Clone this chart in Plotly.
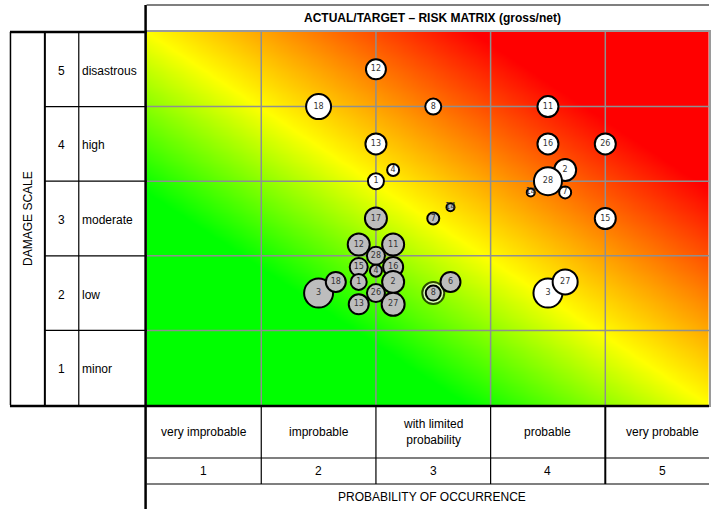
import numpy as np
import plotly.graph_objects as go

# ---- Matrix axes -----------------------------------------------------------
prob_levels = [1, 2, 3, 4, 5]
prob_labels = ["very improbable", "improbable", "with limited<br>probability",
               "probable", "very probable"]
damage_levels = [1, 2, 3, 4, 5]
damage_labels = ["minor", "low", "moderate", "high", "disastrous"]

# ---- Gross risks (white bubbles) -----------------------------------------
gross_ids = [12, 18, 8, 11, 13, 16, 26, 4, 1, 2, 28, 14, 7, 15, 3, 27]
gross_prob = [2.0, 1.5, 2.5, 3.5, 2.0, 3.5, 4.0, 2.15, 2.0, 3.65, 3.5, 3.35, 3.65, 4.0, 3.5, 3.65]
gross_damage = [4.5, 4.0, 4.0, 4.0, 3.5, 3.5, 3.5, 3.15, 3.0, 3.15, 3.0, 2.85, 2.85, 2.5, 1.5, 1.65]
gross_size = [20, 25, 16, 21, 21, 21, 21, 12, 16, 22, 28, 8, 12, 21, 29, 25]

# ---- Net risks (grey bubbles) --------------------------------------------
net_ids = [3, 18, 12, 11, 15, 16, 28, 1, 2, 13, 27, 26, 4, 17, 7, 14, 6, 8]
net_prob = [1.5, 1.65, 1.85, 2.15, 1.85, 2.15, 2.0, 1.85, 2.15, 1.85, 2.15, 2.0, 2.0, 2.0, 2.5, 2.65, 2.65, 2.5]
net_damage = [1.5, 1.65, 2.15, 2.15, 1.85, 1.85, 2.0, 1.65, 1.65, 1.35, 1.35, 1.5, 1.8, 2.5, 2.5, 2.65, 1.65, 1.5]
net_size = [29, 20, 22, 22, 18, 20, 18, 16, 22, 20, 23, 18, 12, 22, 12, 8, 20, 15]
net_ringed = [8]          # net risks equal to their gross value

W, H = 711, 509
PLOT_L, PLOT_T, PLOT_B = 147, 32, 405
COL_W = 115
X_MAX = (W - PLOT_L) / COL_W


def px(x):
    return x / W


def py(y):
    return 1 - y / H


fig = go.Figure()

# background gradient: green (low) -> yellow (diagonal) -> red (high)
gx = np.linspace(-0.1, X_MAX + 0.1, 90)
gy = np.linspace(-0.1, 5.1, 90)
GX, GY = np.meshgrid(gx, gy)
Z = GX / X_MAX + GY / 5
fig.add_trace(go.Heatmap(
    x=gx, y=gy, z=Z, zmin=0, zmax=2, zsmooth="best", showscale=False,
    hoverinfo="skip",
    colorscale=[[0, "#00ff00"], [0.285, "#00ff00"], [0.5, "#ffff00"],
                [0.79, "#ff0000"], [1, "#ff0000"]],
))

# grid lines between matrix cells
for v in prob_levels[:-1]:
    fig.add_trace(go.Scatter(x=[v, v], y=[0, 5], mode="lines",
                             line=dict(color="#8f8f8f", width=1.5),
                             hoverinfo="skip", showlegend=False))
for v in damage_levels[:-1]:
    fig.add_trace(go.Scatter(x=[0, X_MAX], y=[v, v], mode="lines",
                             line=dict(color="#8f8f8f", width=1.5),
                             hoverinfo="skip", showlegend=False))

txt_font = dict(family="DejaVu Sans, sans-serif", size=8, color="#333333")

fig.add_trace(go.Scatter(
    x=gross_prob, y=gross_damage, mode="markers+text",
    text=[str(i) for i in gross_ids], textposition="middle center",
    textfont=txt_font,
    marker=dict(size=gross_size, color="white", line=dict(color="black", width=2),
                opacity=1),
    showlegend=False, name="gross",
))

# outer rings for net risks that coincide with gross
ring_idx = [net_ids.index(i) for i in net_ringed]
fig.add_trace(go.Scatter(
    x=[net_prob[k] for k in ring_idx], y=[net_damage[k] for k in ring_idx],
    mode="markers",
    marker=dict(size=[net_size[k] + 7 for k in ring_idx], color="white",
                line=dict(color="black", width=2)),
    hoverinfo="skip", showlegend=False,
))

fig.add_trace(go.Scatter(
    x=net_prob, y=net_damage, mode="markers+text",
    text=[str(i) for i in net_ids], textposition="middle center",
    textfont=txt_font,
    marker=dict(size=net_size, color="#bdbdbd", line=dict(color="black", width=2),
                opacity=1),
    showlegend=False, name="net",
))

# ---- frame / table lines ---------------------------------------------------
shapes = []


def hline(x0, x1, y, w=1.2):
    shapes.append(dict(type="line", xref="paper", yref="paper",
                       x0=px(x0), x1=px(x1), y0=py(y), y1=py(y),
                       line=dict(color="black", width=w)))


def vline(x, y0, y1, w=1.2):
    shapes.append(dict(type="line", xref="paper", yref="paper",
                       x0=px(x), x1=px(x), y0=py(y0), y1=py(y1),
                       line=dict(color="black", width=w)))


# header
hline(PLOT_L, W, 5, 1.2)
vline(PLOT_L - 1, 5, H, 2.5)
# left table
hline(10, PLOT_L, PLOT_T, 2.5)
hline(10, W, PLOT_B + 1, 2.5)
vline(10.5, PLOT_T, PLOT_B, 1.5)
vline(45, PLOT_T, PLOT_B, 2)
vline(79, PLOT_T, PLOT_B, 1.2)
for r in range(1, 5):
    yy = PLOT_T + r * (PLOT_B - PLOT_T) / 5
    hline(45, PLOT_L, yy, 1.2)
# bottom table
hline(PLOT_L, W, 458, 1.2)
hline(PLOT_L, W, 484, 1.2)
for c in range(1, 5):
    vline(PLOT_L + c * COL_W, PLOT_B, 484, 2 if c == 4 else 1.2)

# ---- texts -----------------------------------------------------------------
font = dict(family="Liberation Sans, Arial, sans-serif", size=12, color="black")
ann = []


def text(t, x, y, xref="paper", yref="paper", xanchor="center", **kw):
    ann.append(dict(text=t, x=x, y=y, xref=xref, yref=yref, xanchor=xanchor,
                    yanchor="middle", showarrow=False, font=font, **kw))


text("<b>ACTUAL/TARGET – RISK MATRIX (gross/net)</b>", px(434), py(18))
text("DAMAGE SCALE", px(28), py(218), textangle=-90)
for lvl, lab in zip(damage_levels, damage_labels):
    text(str(lvl), px(62), lvl - 0.52, yref="y")
    text(lab, px(80), lvl - 0.52, yref="y", xanchor="left")
for lvl, lab in zip(prob_levels, prob_labels):
    text(lab, lvl - 0.5, py(432), xref="x")
    text(str(lvl), lvl - 0.5, py(471), xref="x")
text("PROBABILITY OF OCCURRENCE", px(433), py(497))

fig.update_layout(
    width=W, height=H, autosize=False,
    margin=dict(l=0, r=0, t=0, b=0, pad=0),
    paper_bgcolor="white", plot_bgcolor="white",
    shapes=shapes, annotations=ann, showlegend=False,
    xaxis=dict(domain=[px(PLOT_L), 1], range=[0, X_MAX], showgrid=False,
               zeroline=False, showticklabels=False, ticks="",
               showline=True, mirror=True, linecolor="#9a9a9a", linewidth=1.5),
    yaxis=dict(domain=[py(PLOT_B), py(PLOT_T)], range=[0, 5], showgrid=False,
               zeroline=False, showticklabels=False, ticks="",
               showline=True, mirror=True, linecolor="#9a9a9a", linewidth=1.5),
)

fig.write_html("out.html")
